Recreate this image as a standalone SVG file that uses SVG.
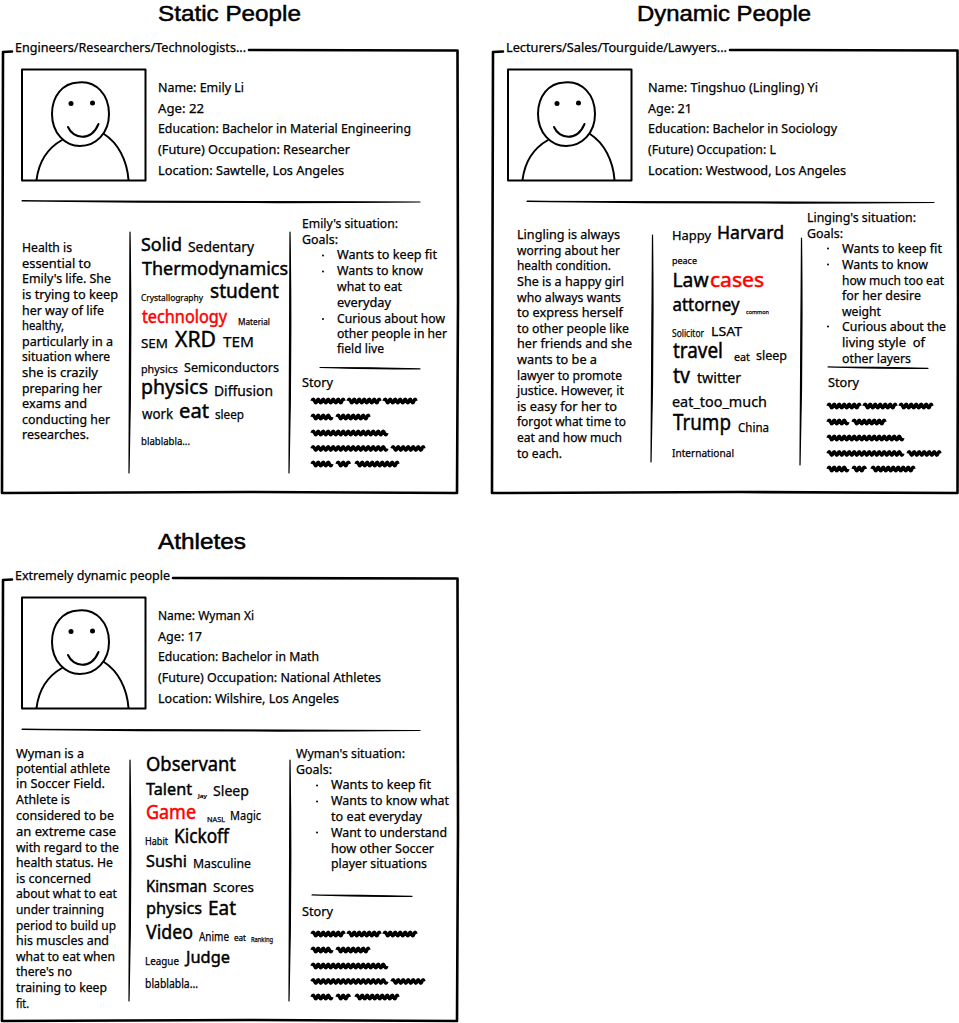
<svg xmlns="http://www.w3.org/2000/svg" width="959" height="1023" viewBox="0 0 959 1023">
<style>
text{font-family:"Noto Sans","DejaVu Sans",sans-serif;font-size:12.5px;fill:#000;stroke:#000;stroke-width:.25px}
.title{font-family:"Liberation Sans",sans-serif;font-size:22.5px;stroke-width:.5px}
.b{stroke-width:.45px}
.red{fill:#f00;stroke:#f00;stroke-width:.5px}
.frame{fill:none;stroke:#000;stroke-width:2.6;stroke-linecap:round;stroke-linejoin:round}
.thin{fill:none;stroke:#000;stroke-width:2;stroke-linecap:round;stroke-linejoin:round}
.scrib{fill:none;stroke:#000;stroke-width:3.5;stroke-linejoin:round}
.rule{stroke:#000;stroke-width:1.2;stroke-linejoin:round}
</style>
<defs>
<g id="avatar">
<path class="thin" d="M22 69.500H145.500V180.500H22Z"/>
<path class="thin" d="M78 82.500C96 80 109 95 109 114C109 133 96 146 80 146C65 146 52 133 52 114C52 96 63 83 78 82.500Z"/>
<circle cx="71" cy="103.500" r="2.500"/>
<circle cx="92.500" cy="103" r="2.500"/>
<path class="thin" d="M68 127C73 139 91 142 98.500 124"/>
<path class="thin" d="M36.500 180C39 160 48 148 62 140M104 134C118 143 127 160 128.500 180"/>
</g>
<path id="w14" d="M0 0q1.200-3.500 2.500 0t2.500 0t2.500 0t2.500 0t2.500 0"/>
<path id="w20" d="M0 0q1.200-3.500 2.500 0t2.500 0t2.500 0t2.500 0t2.500 0t2.500 0t2.500 0t2.500 0"/>
<path id="w32" d="M0 0q1.200-3.500 2.500 0t2.500 0t2.500 0t2.500 0t2.500 0t2.500 0t2.500 0t2.500 0t2.500 0t2.500 0t2.500 0t2.500 0t2 0"/>
<path id="w42" d="M0 0q1.200-3.500 2.500 0t2.500 0t2.500 0t2.500 0t2.500 0t2.500 0t2.500 0t2.500 0t2.500 0t2.500 0t2.500 0t2.500 0t2.500 0t2.500 0t2.500 0t2.500 0t2 0"/>
<path id="w75" d="M0 0q1.200-3.500 2.500 0t2.500 0t2.500 0t2.500 0t2.500 0t2.500 0t2.500 0t2.500 0t2.500 0t2.500 0t2.500 0t2.500 0t2.500 0t2.500 0t2.500 0t2.500 0t2.500 0t2.500 0t2.500 0t2.500 0t2.500 0t2.500 0t2.500 0t2.500 0t2.500 0t2.500 0t2.500 0t2.500 0t2.500 0t2.500 0"/>
<g id="story" class="scrib">
<use href="#w32" x="0" y="0"/><use href="#w32" x="36" y="0"/><use href="#w32" x="72" y="0"/>
<use href="#w20" x="0" y="16"/><use href="#w32" x="25" y="16"/>
<use href="#w75" x="0" y="32"/>
<use href="#w75" x="0" y="47.500"/><use href="#w32" x="80" y="47.500"/>
<use href="#w20" x="0" y="63"/><use href="#w14" x="25" y="63"/><use href="#w42" x="44" y="63"/>
</g>
</defs>

<g id="static-people">
<text class="title" x="158" y="21" textLength="143" lengthAdjust="spacingAndGlyphs">Static People</text>
<path class="frame" d="M12 51.500L3 52L2.500 250L2 493L250 492L457 493L458 300L457.500 50.500L249 50"/>
<text x="15" y="52" textLength="231" lengthAdjust="spacingAndGlyphs">Engineers/Researchers/Technologists...</text>
<use href="#avatar"/>
<text x="158" y="92" textLength="86" lengthAdjust="spacingAndGlyphs">Name: Emily Li</text>
<text x="158" y="113" textLength="46" lengthAdjust="spacingAndGlyphs">Age: 22</text>
<text x="158" y="133" textLength="253" lengthAdjust="spacingAndGlyphs">Education: Bachelor in Material Engineering</text>
<text x="158" y="154" textLength="192" lengthAdjust="spacingAndGlyphs">(Future) Occupation: Researcher</text>
<text x="158" y="175" textLength="186" lengthAdjust="spacingAndGlyphs">Location: Sawtelle, Los Angeles</text>
<path class="rule" d="M22 200.800Q220 201 420 202Q220 203.500 22 200.800Z"/>
<text x="22" y="252" textLength="50" lengthAdjust="spacingAndGlyphs">Health is</text>
<text x="22" y="268" textLength="69" lengthAdjust="spacingAndGlyphs">essential to</text>
<text x="22" y="283" textLength="89" lengthAdjust="spacingAndGlyphs">Emily's life. She</text>
<text x="22" y="299" textLength="96" lengthAdjust="spacingAndGlyphs">is trying to keep</text>
<text x="22" y="315" textLength="82" lengthAdjust="spacingAndGlyphs">her way of life</text>
<text x="22" y="330" textLength="42" lengthAdjust="spacingAndGlyphs">healthy,</text>
<text x="22" y="346" textLength="91" lengthAdjust="spacingAndGlyphs">particularly in a</text>
<text x="22" y="361" textLength="88" lengthAdjust="spacingAndGlyphs">situation where</text>
<text x="22" y="377" textLength="76" lengthAdjust="spacingAndGlyphs">she is crazily</text>
<text x="22" y="393" textLength="80" lengthAdjust="spacingAndGlyphs">preparing her</text>
<text x="22" y="408" textLength="65" lengthAdjust="spacingAndGlyphs">exams and</text>
<text x="22" y="424" textLength="88" lengthAdjust="spacingAndGlyphs">conducting her</text>
<text x="22" y="439" textLength="67" lengthAdjust="spacingAndGlyphs">researches.</text>
<path class="rule" d="M130 232Q132 350 129 473Q129.500 350 130 232Z"/>
<path class="rule" d="M290 232Q292 350 289 473Q289.500 350 290 232Z"/>
<text class="b" x="141" y="251" style="font-size:18px" textLength="41" lengthAdjust="spacingAndGlyphs">Solid</text>
<text x="188" y="252" style="font-size:14px" textLength="66" lengthAdjust="spacingAndGlyphs">Sedentary</text>
<text class="b" x="142" y="275" style="font-size:18px" textLength="146" lengthAdjust="spacingAndGlyphs">Thermodynamics</text>
<text x="141" y="301" style="font-size:9.5px" textLength="62" lengthAdjust="spacingAndGlyphs">Crystallography</text>
<text class="b" x="210" y="298" style="font-size:20px" textLength="69" lengthAdjust="spacingAndGlyphs">student</text>
<text class="red" x="142" y="323" style="font-size:18px" textLength="85" lengthAdjust="spacingAndGlyphs">technology</text>
<text x="238" y="325" style="font-size:9px" textLength="32" lengthAdjust="spacingAndGlyphs">Material</text>
<text x="141" y="348" style="font-size:13px" textLength="27" lengthAdjust="spacingAndGlyphs">SEM</text>
<text class="b" x="175" y="347" style="font-size:22px" textLength="41" lengthAdjust="spacingAndGlyphs">XRD</text>
<text x="223" y="347" style="font-size:15px" textLength="31" lengthAdjust="spacingAndGlyphs">TEM</text>
<text x="141" y="373" style="font-size:11px" textLength="37" lengthAdjust="spacingAndGlyphs">physics</text>
<text x="184" y="372" style="font-size:13px" textLength="95" lengthAdjust="spacingAndGlyphs">Semiconductors</text>
<text class="b" x="141" y="394" style="font-size:19px" textLength="67" lengthAdjust="spacingAndGlyphs">physics</text>
<text x="214" y="396" style="font-size:14px" textLength="59" lengthAdjust="spacingAndGlyphs">Diffusion</text>
<text x="142" y="419" style="font-size:14px" textLength="31" lengthAdjust="spacingAndGlyphs">work</text>
<text class="b" x="179" y="418" style="font-size:20px" textLength="30" lengthAdjust="spacingAndGlyphs">eat</text>
<text x="215" y="419" style="font-size:13px" textLength="29" lengthAdjust="spacingAndGlyphs">sleep</text>
<text x="141" y="445" style="font-size:10.5px" textLength="49" lengthAdjust="spacingAndGlyphs">blablabla...</text>
<text x="302" y="228" textLength="96" lengthAdjust="spacingAndGlyphs">Emily's situation:</text>
<text x="302" y="244" textLength="36" lengthAdjust="spacingAndGlyphs">Goals:</text>
<circle cx="323" cy="255.500" r="1"/><circle cx="323" cy="271.500" r="1"/><circle cx="323" cy="319" r="1"/>
<text x="337" y="259" textLength="100" lengthAdjust="spacingAndGlyphs">Wants to keep fit</text>
<text x="337" y="275" textLength="86" lengthAdjust="spacingAndGlyphs">Wants to know</text>
<text x="337" y="291" textLength="65" lengthAdjust="spacingAndGlyphs">what to eat</text>
<text x="337" y="307" textLength="54" lengthAdjust="spacingAndGlyphs">everyday</text>
<text x="337" y="323" textLength="108" lengthAdjust="spacingAndGlyphs">Curious about how</text>
<text x="337" y="338" textLength="110" lengthAdjust="spacingAndGlyphs">other people in her</text>
<text x="337" y="353" textLength="47" lengthAdjust="spacingAndGlyphs">field live</text>
<path class="rule" d="M320 367.500Q370 367.500 420 368.800Q370 369.500 320 367.500Z"/>
<text x="302" y="387" textLength="31" lengthAdjust="spacingAndGlyphs">Story</text>
<use href="#story" x="312" y="401"/>
</g>

<g id="dynamic-people">
<text class="title" x="637" y="21" textLength="174" lengthAdjust="spacingAndGlyphs">Dynamic People</text>
<path class="frame" d="M503 51.500L493 52L492.500 250L492 493L740 492L957.500 493L958 300L957.500 50.500L730 50"/>
<text x="506" y="52" textLength="221" lengthAdjust="spacingAndGlyphs">Lecturers/Sales/Tourguide/Lawyers...</text>
<use href="#avatar" x="486"/>
<text x="648" y="92" textLength="170" lengthAdjust="spacingAndGlyphs">Name: Tingshuo (Lingling) Yi</text>
<text x="648" y="113" textLength="44" lengthAdjust="spacingAndGlyphs">Age: 21</text>
<text x="648" y="133" textLength="189" lengthAdjust="spacingAndGlyphs">Education: Bachelor in Sociology</text>
<text x="648" y="154" textLength="128" lengthAdjust="spacingAndGlyphs">(Future) Occupation: L</text>
<text x="648" y="175" textLength="198" lengthAdjust="spacingAndGlyphs">Location: Westwood, Los Angeles</text>
<path class="rule" d="M527 201.300Q730 201.500 934 202.500Q730 204 527 201.300Z"/>
<text x="517" y="239" textLength="103" lengthAdjust="spacingAndGlyphs">Lingling is always</text>
<text x="517" y="255" textLength="103" lengthAdjust="spacingAndGlyphs">worring about her</text>
<text x="517" y="270" textLength="94" lengthAdjust="spacingAndGlyphs">health condition.</text>
<text x="517" y="286" textLength="107" lengthAdjust="spacingAndGlyphs">She is a happy girl</text>
<text x="517" y="302" textLength="104" lengthAdjust="spacingAndGlyphs">who always wants</text>
<text x="517" y="317" textLength="106" lengthAdjust="spacingAndGlyphs">to express herself</text>
<text x="517" y="333" textLength="112" lengthAdjust="spacingAndGlyphs">to other people like</text>
<text x="517" y="348" textLength="115" lengthAdjust="spacingAndGlyphs">her friends and she</text>
<text x="517" y="364" textLength="80" lengthAdjust="spacingAndGlyphs">wants to be a</text>
<text x="517" y="380" textLength="105" lengthAdjust="spacingAndGlyphs">lawyer to promote</text>
<text x="517" y="395" textLength="107" lengthAdjust="spacingAndGlyphs">justice. However, it</text>
<text x="517" y="411" textLength="100" lengthAdjust="spacingAndGlyphs">is easy for her to</text>
<text x="517" y="426" textLength="109" lengthAdjust="spacingAndGlyphs">forgot what time to</text>
<text x="517" y="442" textLength="105" lengthAdjust="spacingAndGlyphs">eat and how much</text>
<text x="517" y="458" textLength="45" lengthAdjust="spacingAndGlyphs">to each.</text>
<path class="rule" d="M652.500 235Q654 350 651 462Q651.500 350 652.500 235Z"/>
<path class="rule" d="M801.500 238Q803 350 800 465Q800.500 350 801.500 238Z"/>
<text x="672" y="240" style="font-size:13px" textLength="39" lengthAdjust="spacingAndGlyphs">Happy</text>
<text class="b" x="717" y="239" style="font-size:18px" textLength="67" lengthAdjust="spacingAndGlyphs">Harvard</text>
<text x="672" y="264" style="font-size:9px" textLength="25" lengthAdjust="spacingAndGlyphs">peace</text>
<text class="b" x="672.500" y="287" style="font-size:20px" textLength="36" lengthAdjust="spacingAndGlyphs">Law</text>
<text class="red" x="710" y="287" style="font-size:20px" textLength="54" lengthAdjust="spacingAndGlyphs">cases</text>
<text class="b" x="672.500" y="311" style="font-size:18px" textLength="67" lengthAdjust="spacingAndGlyphs">attorney</text>
<text x="746" y="314" style="font-size:6px" textLength="23" lengthAdjust="spacingAndGlyphs">common</text>
<text x="672" y="337" style="font-size:10.5px" textLength="32" lengthAdjust="spacingAndGlyphs">Solicitor</text>
<text x="711" y="336" style="font-size:13px" textLength="31" lengthAdjust="spacingAndGlyphs">LSAT</text>
<text class="b" x="673" y="358" style="font-size:21px" textLength="50" lengthAdjust="spacingAndGlyphs">travel</text>
<text x="734" y="361" style="font-size:11px" textLength="16" lengthAdjust="spacingAndGlyphs">eat</text>
<text x="756" y="360" style="font-size:13px" textLength="31" lengthAdjust="spacingAndGlyphs">sleep</text>
<text class="b" x="673" y="383" style="font-size:21px" textLength="17" lengthAdjust="spacingAndGlyphs">tv</text>
<text x="697" y="383" style="font-size:15px" textLength="44" lengthAdjust="spacingAndGlyphs">twitter</text>
<text x="672" y="407" style="font-size:14px" textLength="95" lengthAdjust="spacingAndGlyphs">eat_too_much</text>
<text class="b" x="673" y="430" style="font-size:22px" textLength="58" lengthAdjust="spacingAndGlyphs">Trump</text>
<text x="738" y="432" style="font-size:12px" textLength="31" lengthAdjust="spacingAndGlyphs">China</text>
<text x="672" y="457" style="font-size:11px" textLength="62" lengthAdjust="spacingAndGlyphs">International</text>
<text x="807" y="222" textLength="109" lengthAdjust="spacingAndGlyphs">Linging's situation:</text>
<text x="807" y="238" textLength="36" lengthAdjust="spacingAndGlyphs">Goals:</text>
<circle cx="828" cy="248.500" r="1"/><circle cx="828" cy="264.500" r="1"/><circle cx="828" cy="326.500" r="1"/>
<text x="842" y="253" textLength="100" lengthAdjust="spacingAndGlyphs">Wants to keep fit</text>
<text x="842" y="269" textLength="86" lengthAdjust="spacingAndGlyphs">Wants to know</text>
<text x="842" y="285" textLength="102" lengthAdjust="spacingAndGlyphs">how much too eat</text>
<text x="842" y="300" textLength="79" lengthAdjust="spacingAndGlyphs">for her desire</text>
<text x="842" y="316" textLength="39" lengthAdjust="spacingAndGlyphs">weight</text>
<text x="842" y="331" textLength="104" lengthAdjust="spacingAndGlyphs">Curious about the</text>
<text x="842" y="347" textLength="83" lengthAdjust="spacingAndGlyphs" xml:space="preserve">living style  of</text>
<text x="842" y="363" textLength="69" lengthAdjust="spacingAndGlyphs">other layers</text>
<path class="rule" d="M828 367Q878 367 928 368.300Q878 369 828 367Z"/>
<text x="828" y="387" textLength="31" lengthAdjust="spacingAndGlyphs">Story</text>
<use href="#story" x="828" y="406"/>
</g>

<g id="athletes">
<text class="title" x="158" y="549" textLength="88" lengthAdjust="spacingAndGlyphs">Athletes</text>
<path class="frame" d="M12 579.500L3 580L2.500 778L2 1021L250 1020L457 1021L458 828L457.500 578.500L173 578"/>
<text x="15" y="580" textLength="155" lengthAdjust="spacingAndGlyphs">Extremely dynamic people</text>
<use href="#avatar" y="528"/>
<text x="158" y="620" textLength="96" lengthAdjust="spacingAndGlyphs">Name: Wyman Xi</text>
<text x="158" y="641" textLength="44" lengthAdjust="spacingAndGlyphs">Age: 17</text>
<text x="158" y="661" textLength="161" lengthAdjust="spacingAndGlyphs">Education: Bachelor in Math</text>
<text x="158" y="682" textLength="223" lengthAdjust="spacingAndGlyphs">(Future) Occupation: National Athletes</text>
<text x="158" y="703" textLength="181" lengthAdjust="spacingAndGlyphs">Location: Wilshire, Los Angeles</text>
<path class="rule" d="M22 729.300Q220 729.500 420 730.500Q220 732 22 729.300Z"/>
<text x="16" y="758" textLength="68" lengthAdjust="spacingAndGlyphs">Wyman is a</text>
<text x="16" y="773" textLength="94" lengthAdjust="spacingAndGlyphs">potential athlete</text>
<text x="16" y="788" textLength="89" lengthAdjust="spacingAndGlyphs">in Soccer Field.</text>
<text x="16" y="804" textLength="54" lengthAdjust="spacingAndGlyphs">Athlete is</text>
<text x="16" y="820" textLength="98" lengthAdjust="spacingAndGlyphs">considered to be</text>
<text x="16" y="836" textLength="100" lengthAdjust="spacingAndGlyphs">an extreme case</text>
<text x="16" y="852" textLength="103" lengthAdjust="spacingAndGlyphs">with regard to the</text>
<text x="16" y="867" textLength="97" lengthAdjust="spacingAndGlyphs">health status. He</text>
<text x="16" y="883" textLength="75" lengthAdjust="spacingAndGlyphs">is concerned</text>
<text x="16" y="898" textLength="101" lengthAdjust="spacingAndGlyphs">about what to eat</text>
<text x="16" y="914" textLength="88" lengthAdjust="spacingAndGlyphs">under trainning</text>
<text x="16" y="930" textLength="100" lengthAdjust="spacingAndGlyphs">period to build up</text>
<text x="16" y="945" textLength="93" lengthAdjust="spacingAndGlyphs">his muscles and</text>
<text x="16" y="961" textLength="99" lengthAdjust="spacingAndGlyphs">what to eat when</text>
<text x="16" y="976" textLength="56" lengthAdjust="spacingAndGlyphs">there's no</text>
<text x="16" y="992" textLength="91" lengthAdjust="spacingAndGlyphs">training to keep</text>
<text x="16" y="1008" textLength="13" lengthAdjust="spacingAndGlyphs">fit.</text>
<path class="rule" d="M130 760Q132 880 129 1001Q129.500 880 130 760Z"/>
<path class="rule" d="M290 760Q292 880 289 1001Q289.500 880 290 760Z"/>
<text class="b" x="146" y="771" style="font-size:20px" textLength="90" lengthAdjust="spacingAndGlyphs">Observant</text>
<text class="b" x="146" y="795" style="font-size:17px" textLength="46" lengthAdjust="spacingAndGlyphs">Talent</text>
<text x="198" y="798" style="font-size:6px" textLength="9" lengthAdjust="spacingAndGlyphs">Jay</text>
<text x="213" y="796" style="font-size:14.5px" textLength="36" lengthAdjust="spacingAndGlyphs">Sleep</text>
<text class="red" x="146" y="819" style="font-size:20px" textLength="50" lengthAdjust="spacingAndGlyphs">Game</text>
<text x="207" y="822" style="font-size:7px" textLength="18" lengthAdjust="spacingAndGlyphs">NASL</text>
<text x="230" y="820" style="font-size:13px" textLength="31" lengthAdjust="spacingAndGlyphs">Magic</text>
<text x="145" y="845" style="font-size:10px" textLength="23" lengthAdjust="spacingAndGlyphs">Habit</text>
<text class="b" x="174" y="843" style="font-size:19px" textLength="55" lengthAdjust="spacingAndGlyphs">Kickoff</text>
<text class="b" x="146" y="867" style="font-size:17px" textLength="41" lengthAdjust="spacingAndGlyphs">Sushi</text>
<text x="193" y="868" style="font-size:13px" textLength="58" lengthAdjust="spacingAndGlyphs">Masculine</text>
<text class="b" x="146" y="892" style="font-size:16px" textLength="61" lengthAdjust="spacingAndGlyphs">Kinsman</text>
<text x="213" y="892" style="font-size:13px" textLength="41" lengthAdjust="spacingAndGlyphs">Scores</text>
<text class="b" x="146" y="914" style="font-size:17px" textLength="56" lengthAdjust="spacingAndGlyphs">physics</text>
<text class="b" x="208" y="915" style="font-size:20px" textLength="28" lengthAdjust="spacingAndGlyphs">Eat</text>
<text class="b" x="146" y="939" style="font-size:20px" textLength="47" lengthAdjust="spacingAndGlyphs">Video</text>
<text x="199" y="941" style="font-size:12px" textLength="30" lengthAdjust="spacingAndGlyphs">Anime</text>
<text x="234" y="941" style="font-size:8px" textLength="12" lengthAdjust="spacingAndGlyphs">eat</text>
<text x="251" y="942" style="font-size:7px" textLength="22" lengthAdjust="spacingAndGlyphs">Ranking</text>
<text x="145" y="965" style="font-size:11px" textLength="34" lengthAdjust="spacingAndGlyphs">League</text>
<text class="b" x="186" y="963" style="font-size:17px" textLength="44" lengthAdjust="spacingAndGlyphs">Judge</text>
<text x="145" y="988" style="font-size:12px" textLength="53" lengthAdjust="spacingAndGlyphs">blablabla...</text>
<text x="296" y="758" textLength="109" lengthAdjust="spacingAndGlyphs">Wyman's situation:</text>
<text x="296" y="774" textLength="36" lengthAdjust="spacingAndGlyphs">Goals:</text>
<circle cx="317" cy="785.500" r="1"/><circle cx="317" cy="801.500" r="1"/><circle cx="317" cy="832.500" r="1"/>
<text x="331" y="789" textLength="100" lengthAdjust="spacingAndGlyphs">Wants to keep fit</text>
<text x="331" y="805" textLength="118" lengthAdjust="spacingAndGlyphs">Wants to know what</text>
<text x="331" y="821" textLength="91" lengthAdjust="spacingAndGlyphs">to eat everyday</text>
<text x="331" y="837" textLength="116" lengthAdjust="spacingAndGlyphs">Want to understand</text>
<text x="331" y="853" textLength="103" lengthAdjust="spacingAndGlyphs">how other Soccer</text>
<text x="331" y="868" textLength="96" lengthAdjust="spacingAndGlyphs">player situations</text>
<path class="rule" d="M312 895Q362 895 412 896.300Q362 897 312 895Z"/>
<text x="302" y="916" textLength="31" lengthAdjust="spacingAndGlyphs">Story</text>
<use href="#story" x="312" y="934"/>
</g>
</svg>
